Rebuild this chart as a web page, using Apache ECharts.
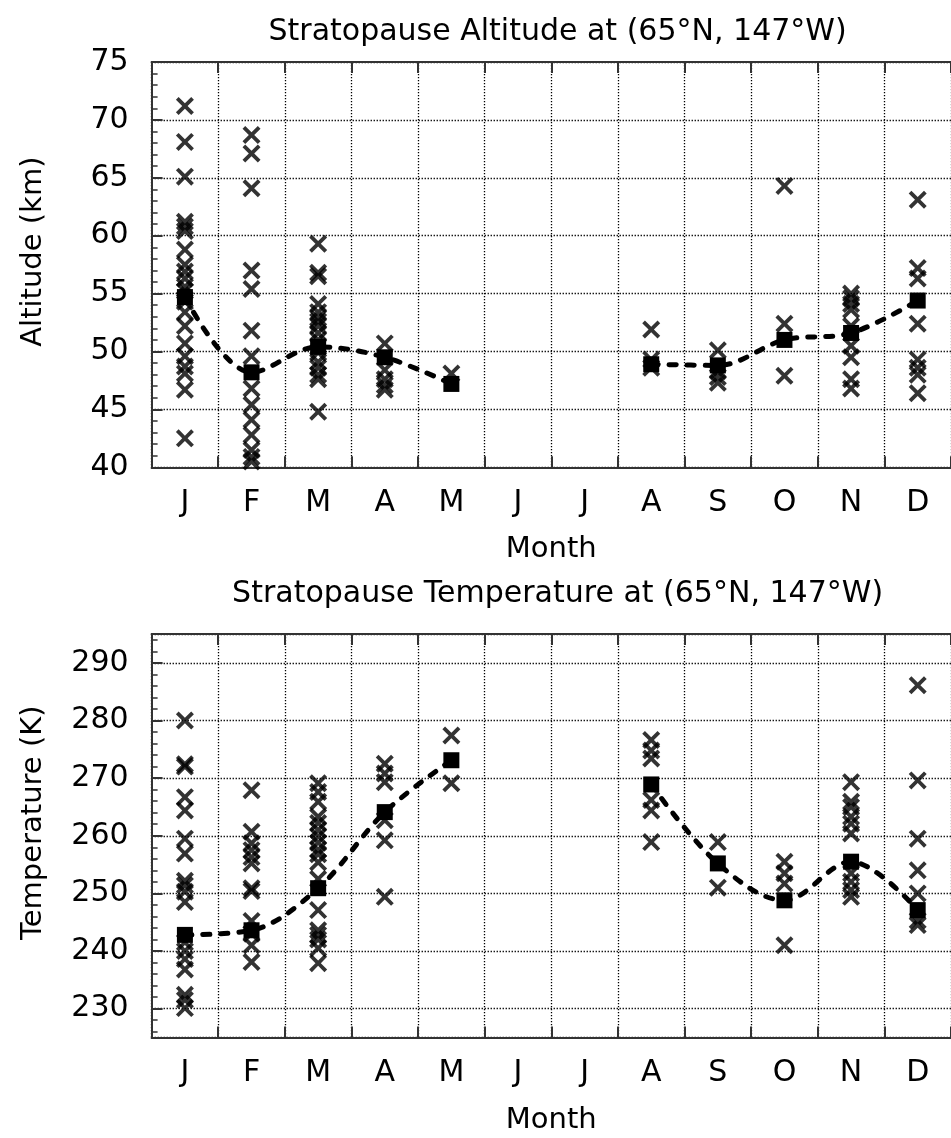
<!DOCTYPE html>
<html><head><meta charset="utf-8">
<script src="https://cdn.jsdelivr.net/npm/echarts@6/dist/echarts.min.js"></script>
<style>html,body{margin:0;padding:0;background:#fff}#c{width:951px;height:1138px}</style>
</head><body><div id="c"></div>
<script>
// ---- data ----
const months = ['J','F','M','A','M','J','J','A','S','O','N','D'];

// individual stratopause altitude samples (km), one list per month
const altitudeSamples = [
  [71.2, 68.1, 65.1, 61.2, 60.8, 60.4, 58.8, 57.5, 56.9, 56.3, 55.6, 55.2, 54.3, 53.4, 52.2, 50.7, 49.6, 48.7, 48.1, 46.7, 42.5],
  [68.7, 67.1, 64.1, 57.0, 55.4, 51.8, 49.6, 46.8, 45.4, 44.1, 42.8, 41.5, 40.9, 40.5],
  [59.3, 56.8, 56.5, 54.1, 53.4, 52.9, 52.6, 52.2, 51.6, 51.0, 50.4, 49.9, 49.1, 48.6, 48.0, 47.6, 44.8],
  [50.7, 48.4, 47.6, 47.1, 46.7],
  [48.1],
  [],
  [],
  [51.9, 49.3, 48.6],
  [50.1, 48.3, 47.8, 47.3],
  [64.3, 52.4, 47.9],
  [55.0, 54.6, 54.1, 53.6, 52.2, 50.5, 49.5, 47.6, 46.8],
  [63.1, 57.2, 56.3, 52.4, 49.3, 48.6, 48.0, 46.4]
];
// monthly mean altitude (km)
const altitudeMean = [54.7, 48.2, 50.4, 49.5, 47.2, null, null, 48.9, 48.8, 51.0, 51.6, 54.4];

// individual stratopause temperature samples (K), one list per month
const temperatureSamples = [
  [280.0, 272.4, 272.0, 266.7, 264.4, 259.5, 256.9, 252.2, 251.4, 250.3, 248.5, 241.5, 240.0, 238.6, 236.8, 232.4, 231.5, 230.1],
  [267.9, 260.7, 258.7, 257.5, 256.3, 255.2, 250.9, 250.4, 245.2, 243.0, 241.0, 238.1],
  [269.1, 267.6, 265.9, 263.3, 262.2, 261.0, 259.9, 258.8, 257.6, 256.8, 255.4, 252.5, 247.1, 243.6, 242.8, 242.0, 240.5, 237.9],
  [272.5, 270.8, 269.3, 262.7, 259.2, 249.4],
  [277.4, 269.1],
  [],
  [],
  [276.6, 274.8, 273.4, 266.2, 264.4, 258.9],
  [258.9, 251.0],
  [255.5, 253.5, 251.7, 241.0],
  [269.3, 265.9, 265.0, 263.3, 262.1, 260.4, 253.5, 252.0, 250.6, 249.4],
  [286.1, 269.6, 259.5, 254.0, 250.0, 245.3, 244.5]
];
// monthly mean temperature (K)
const temperatureMean = [242.8, 243.6, 250.9, 264.1, 273.1, null, null, 268.9, 255.2, 248.8, 255.5, 247.1];

const titles = ['Stratopause Altitude at (65°N, 147°W)', 'Stratopause Temperature at (65°N, 147°W)'];
const yNames = ['Altitude (km)', 'Temperature (K)'];
const xName = 'Month';

// ---- style ----
const FONT = 'DejaVu Sans';
const X_PATH = 'path://M15,0L50,35L85,0L100,15L65,50L100,85L85,100L50,65L15,100L0,85L35,50L0,15Z';
const AX = {color: '#333', width: 2};
const DOT = {type: [1.3, 1.7], color: '#000', width: 1.3};
const txt = {fontFamily: FONT, fontSize: 30, color: '#000', fontWeight: 'normal'};
const txtSmall = Object.assign({}, txt, {fontSize: 29});

const GL = 151.6, GW = 812;
const grids = [
  {left: GL, top: 62, width: GW, height: 405.3},
  {left: GL, top: 634, width: GW, height: 403.5}
];

function xBottom(i) {
  return {
    type: 'category', gridIndex: i, data: months, boundaryGap: true, position: 'bottom',
    axisLine: {show: true, lineStyle: AX},
    axisTick: {show: true, inside: true, length: 11, lineStyle: AX},
    axisLabel: Object.assign({show: true, margin: 21, interval: 0}, txt),
    splitLine: {show: true, lineStyle: DOT},
    name: xName, nameLocation: 'middle', nameGap: 68, nameTextStyle: txtSmall
  };
}
function xTop(i) {
  return {
    type: 'category', gridIndex: i, data: months, boundaryGap: true, position: 'top',
    axisLine: {show: true, lineStyle: AX},
    axisTick: {show: true, inside: true, length: 11, lineStyle: AX},
    axisLabel: {show: false}, splitLine: {show: false}
  };
}
function yLeft(i, extra, shift) {
  return Object.assign({
    type: 'value', gridIndex: i, position: 'left',
    axisLine: {show: true, lineStyle: AX},
    axisTick: {show: true, inside: true, length: 11, lineStyle: AX},
    minorTick: {show: true, splitNumber: 5, length: 6, lineStyle: {color: '#333', width: 1.5}},
    axisLabel: Object.assign({margin: 23, padding: [0, 0, 14, 0]}, txt),
    splitLine: {show: true, lineStyle: DOT},
    name: yNames[i], nameLocation: 'middle', nameGap: 104,
    nameTextStyle: Object.assign({padding: [0, 0, 0, shift]}, txtSmall)
  }, extra);
}

function scatterData(samples) {
  const out = [];
  samples.forEach((arr, m) => arr.forEach(v => out.push([m, v])));
  return out;
}
function scatter(i, samples) {
  return {
    type: 'scatter', xAxisIndex: i * 2, yAxisIndex: i, data: scatterData(samples),
    symbol: X_PATH, symbolSize: 18, itemStyle: {color: '#000'}, z: 2
  };
}
function meanLine(i, data) {
  return {
    type: 'line', xAxisIndex: i * 2, yAxisIndex: i, data: data, connectNulls: false,
    symbol: 'rect', symbolSize: 16, smooth: 0.35,
    itemStyle: {color: '#000'},
    lineStyle: {color: '#000', width: 5, type: [7, 11], cap: 'round'}, z: 3
  };
}

const chart = echarts.init(document.getElementById('c'), null, {renderer: 'canvas'});
chart.setOption({
  animation: false,
  backgroundColor: '#fff',
  title: [
    {text: titles[0], left: GL + GW / 2, top: 17, textAlign: 'center', padding: 0, textStyle: txt},
    {text: titles[1], left: GL + GW / 2, top: 579, textAlign: 'center', padding: 0, textStyle: txt}
  ],
  grid: grids,
  xAxis: [xBottom(0), xTop(0), xBottom(1), xTop(1)],
  yAxis: [
    yLeft(0, {min: 40, max: 75, interval: 5}, 26),
    yLeft(1, {min: 225, max: 295, splitNumber: 7, minInterval: 10, maxInterval: 10,
      axisLabel: Object.assign({margin: 23, padding: [0, 0, 14, 0],
        formatter: v => (v % 10 === 0 ? String(v) : '')}, txt)}, 26)
  ],
  series: [
    scatter(0, altitudeSamples), meanLine(0, altitudeMean),
    scatter(1, temperatureSamples), meanLine(1, temperatureMean)
  ]
});
</script>
</body></html>
